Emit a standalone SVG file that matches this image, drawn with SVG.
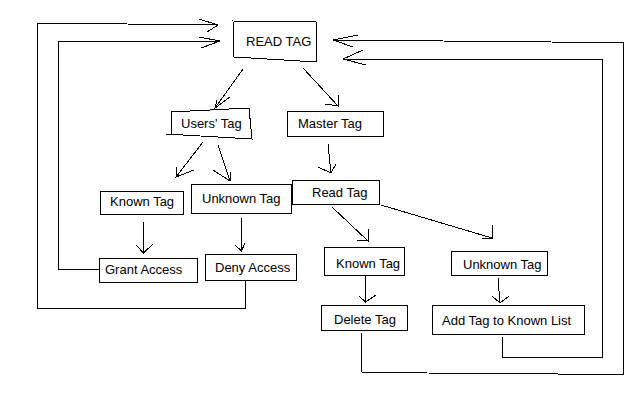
<svg xmlns="http://www.w3.org/2000/svg" width="640" height="400" viewBox="0 0 640 400">
<style>
.b{fill:#fff;stroke:#000;stroke-width:1;shape-rendering:crispEdges}
.t{font-family:"Liberation Sans",Arial,sans-serif;font-size:13px;fill:#000}
.c polyline{fill:none;stroke:#000;stroke-width:1;shape-rendering:crispEdges}
</style>
<rect width="640" height="400" fill="#fff"/>
<g id="connectors" class="c">
<polyline points="245,281 245,308.5 37.5,309 37.5,23.5 127,24 218,25"/>
<polyline points="199,19 218,25 207,32"/>
<polyline points="99,269.5 58.5,269.5 58.5,41 220,41"/>
<polyline points="199,37 220,41 201,48"/>
<polyline points="361.5,333 361.5,372 427,373 558,374 623.5,374 623.5,43 551,42 333,40"/>
<polyline points="358,35 333,40 353,47"/>
<polyline points="502.5,337 502.5,357.5 602.5,357.5 602.5,60 343,59"/>
<polyline points="363,50 343,59 366,65"/>
<polyline points="243,69 215,108"/>
<polyline points="230,97 215,108 217,100"/>
<polyline points="303,68 338,106"/>
<polyline points="325,104 338,106 338,95"/>
<polyline points="203,142 176,177"/>
<polyline points="194,170 176,177 177,167"/>
<polyline points="218,145 230,181"/>
<polyline points="213,170 230,181 231,172"/>
<polyline points="143.5,222 143.5,253"/>
<polyline points="136,245 143.5,253 153,244"/>
<polyline points="241.5,218 241.5,251"/>
<polyline points="235,245 241.5,251 245,243"/>
<polyline points="328,144 331,173"/>
<polyline points="318,167 331,173 336,164"/>
<polyline points="332,207 368,241"/>
<polyline points="357,240 368,241 368,229"/>
<polyline points="381,205 492,238"/>
<polyline points="482,238 492,238 492,225"/>
<polyline points="365.5,275 365.5,302"/>
<polyline points="359,296 365.5,302 376,295"/>
<polyline points="498,278 500,303"/>
<polyline points="492,296 500,303 509,296"/>
</g>
<g id="read-tag-main"><path class="b" d="M233,21 L316,22 L317,62 L234,57 Z"/><text class="t" x="246" y="46">READ TAG</text></g>
<g id="users-tag"><path class="b" d="M171,112 L249,108 L252,139 L166,134 M171,112 L171,134"/><text class="t" x="181" y="128">Users' Tag</text></g>
<g id="master-tag"><rect class="b" x="287.5" y="111.5" width="96" height="25"/><text class="t" x="298" y="128">Master Tag</text></g>
<g id="known-tag-l"><rect class="b" x="100.5" y="191.5" width="83" height="23"/><text class="t" x="110" y="206">Known Tag</text></g>
<g id="unknown-tag-l"><rect class="b" x="191.5" y="184.5" width="100" height="29"/><text class="t" x="202" y="203">Unknown Tag</text></g>
<g id="read-tag"><rect class="b" x="292.5" y="180.5" width="87" height="24"/><text class="t" x="312" y="197">Read Tag</text></g>
<g id="grant-access"><rect class="b" x="99.5" y="258.5" width="98" height="24"/><text class="t" x="105" y="274">Grant Access</text></g>
<g id="deny-access"><rect class="b" x="205.5" y="254.5" width="91" height="26"/><text class="t" x="215" y="272">Deny Access</text></g>
<g id="known-tag-r"><rect class="b" x="324.5" y="247.5" width="80" height="28"/><text class="t" x="336" y="268">Known Tag</text></g>
<g id="unknown-tag-r"><rect class="b" x="451.5" y="251.5" width="96" height="24"/><text class="t" x="463" y="269">Unknown Tag</text></g>
<g id="delete-tag"><rect class="b" x="321.5" y="305.5" width="86" height="25"/><text class="t" x="334" y="324">Delete Tag</text></g>
<g id="add-tag"><rect class="b" x="432.5" y="305.5" width="152" height="29"/><text class="t" x="442" y="325">Add Tag to Known List</text></g>
</svg>
